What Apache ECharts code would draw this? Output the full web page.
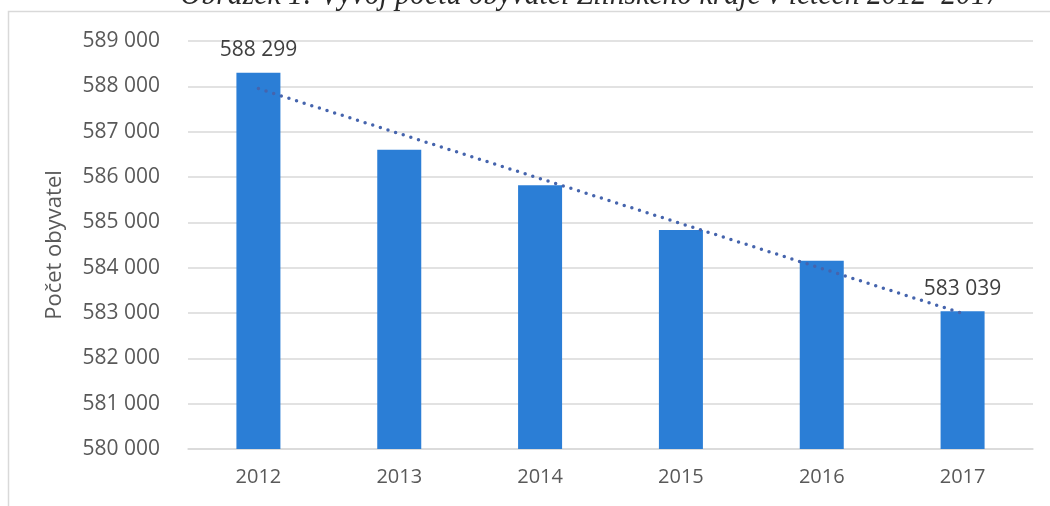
<!DOCTYPE html>
<html>
<head>
<meta charset="utf-8">
<script src="https://cdn.jsdelivr.net/npm/echarts@6/dist/echarts.min.js"></script>
<style>
  html, body { margin: 0; padding: 0; background: #fff; }
  #chart { width: 1050px; height: 506px; }
</style>
</head>
<body>
<div id="chart"></div>
<script>
var years = ['2012', '2013', '2014', '2015', '2016', '2017'];
var population = [588299, 586600, 585820, 584830, 584150, 583039];
// trend line end points
var trend = [587950, null, null, null, null, 582990];
var yTicks = { min: 580000, max: 589000, step: 1000 };

var myChart = echarts.init(document.getElementById('chart'));

function fmt(v) {
    return String(v).replace(/\B(?=(\d{3})+(?!\d))/g, ' ');
}

var option = {
    animation: false,
    textStyle: { fontFamily: 'Open Sans' },
    graphic: [
        {
            type: 'rect',
            shape: { x: 8.5, y: 11.5, width: 1200, height: 600 },
            style: { fill: 'none', stroke: '#d9d9d9', lineWidth: 1.5 },
            silent: true
        },
        {
            type: 'text',
            x: 180, y: -5.5,
            scaleX: 0.99,
            scaleY: 1.15,
            style: {
                text: 'Obrázek 1: Vývoj počtu obyvatel Zlínského kraje v letech 2012–2017',
                font: 'italic 30px "Liberation Serif"',
                fill: '#2a2a2a',
                verticalAlign: 'middle'
            }
        }
    ],
    grid: { left: 188, right: 17, top: 41, bottom: 57 },
    xAxis: {
        type: 'category',
        data: years,
        axisTick: { show: false },
        axisLine: { lineStyle: { color: '#d9d9d9', width: 1.5 } },
        axisLabel: { color: '#595959', fontSize: 20, margin: 18 }
    },
    yAxis: {
        type: 'value',
        min: yTicks.min,
        max: yTicks.max,
        interval: yTicks.step,
        name: 'Počet obyvatel',
        nameLocation: 'middle',
        nameGap: 122,
        nameTextStyle: { color: '#595959', fontSize: 22 },
        axisLine: { show: false },
        axisTick: { show: false },
        axisLabel: { color: '#595959', fontSize: 21, margin: 28, formatter: fmt },
        splitLine: { lineStyle: { color: '#d9d9d9', width: 1.5 } }
    },
    series: [
        {
            type: 'bar',
            data: population,
            barWidth: 44,
            itemStyle: { color: '#2b7ed6' },
            label: {
                show: true,
                position: 'top',
                distance: 12,
                color: '#404040',
                fontSize: 21,
                formatter: function (p) {
                    return (p.dataIndex === 0 || p.dataIndex === population.length - 1) ? fmt(p.value) : '';
                }
            }
        },
        {
            type: 'line',
            data: trend,
            connectNulls: true,
            symbol: 'none',
            z: 5,
            lineStyle: { color: '#4564ad', width: 3.5, type: [0, 8], cap: 'round' }
        }
    ]
};

myChart.setOption(option);
</script>
</body>
</html>
